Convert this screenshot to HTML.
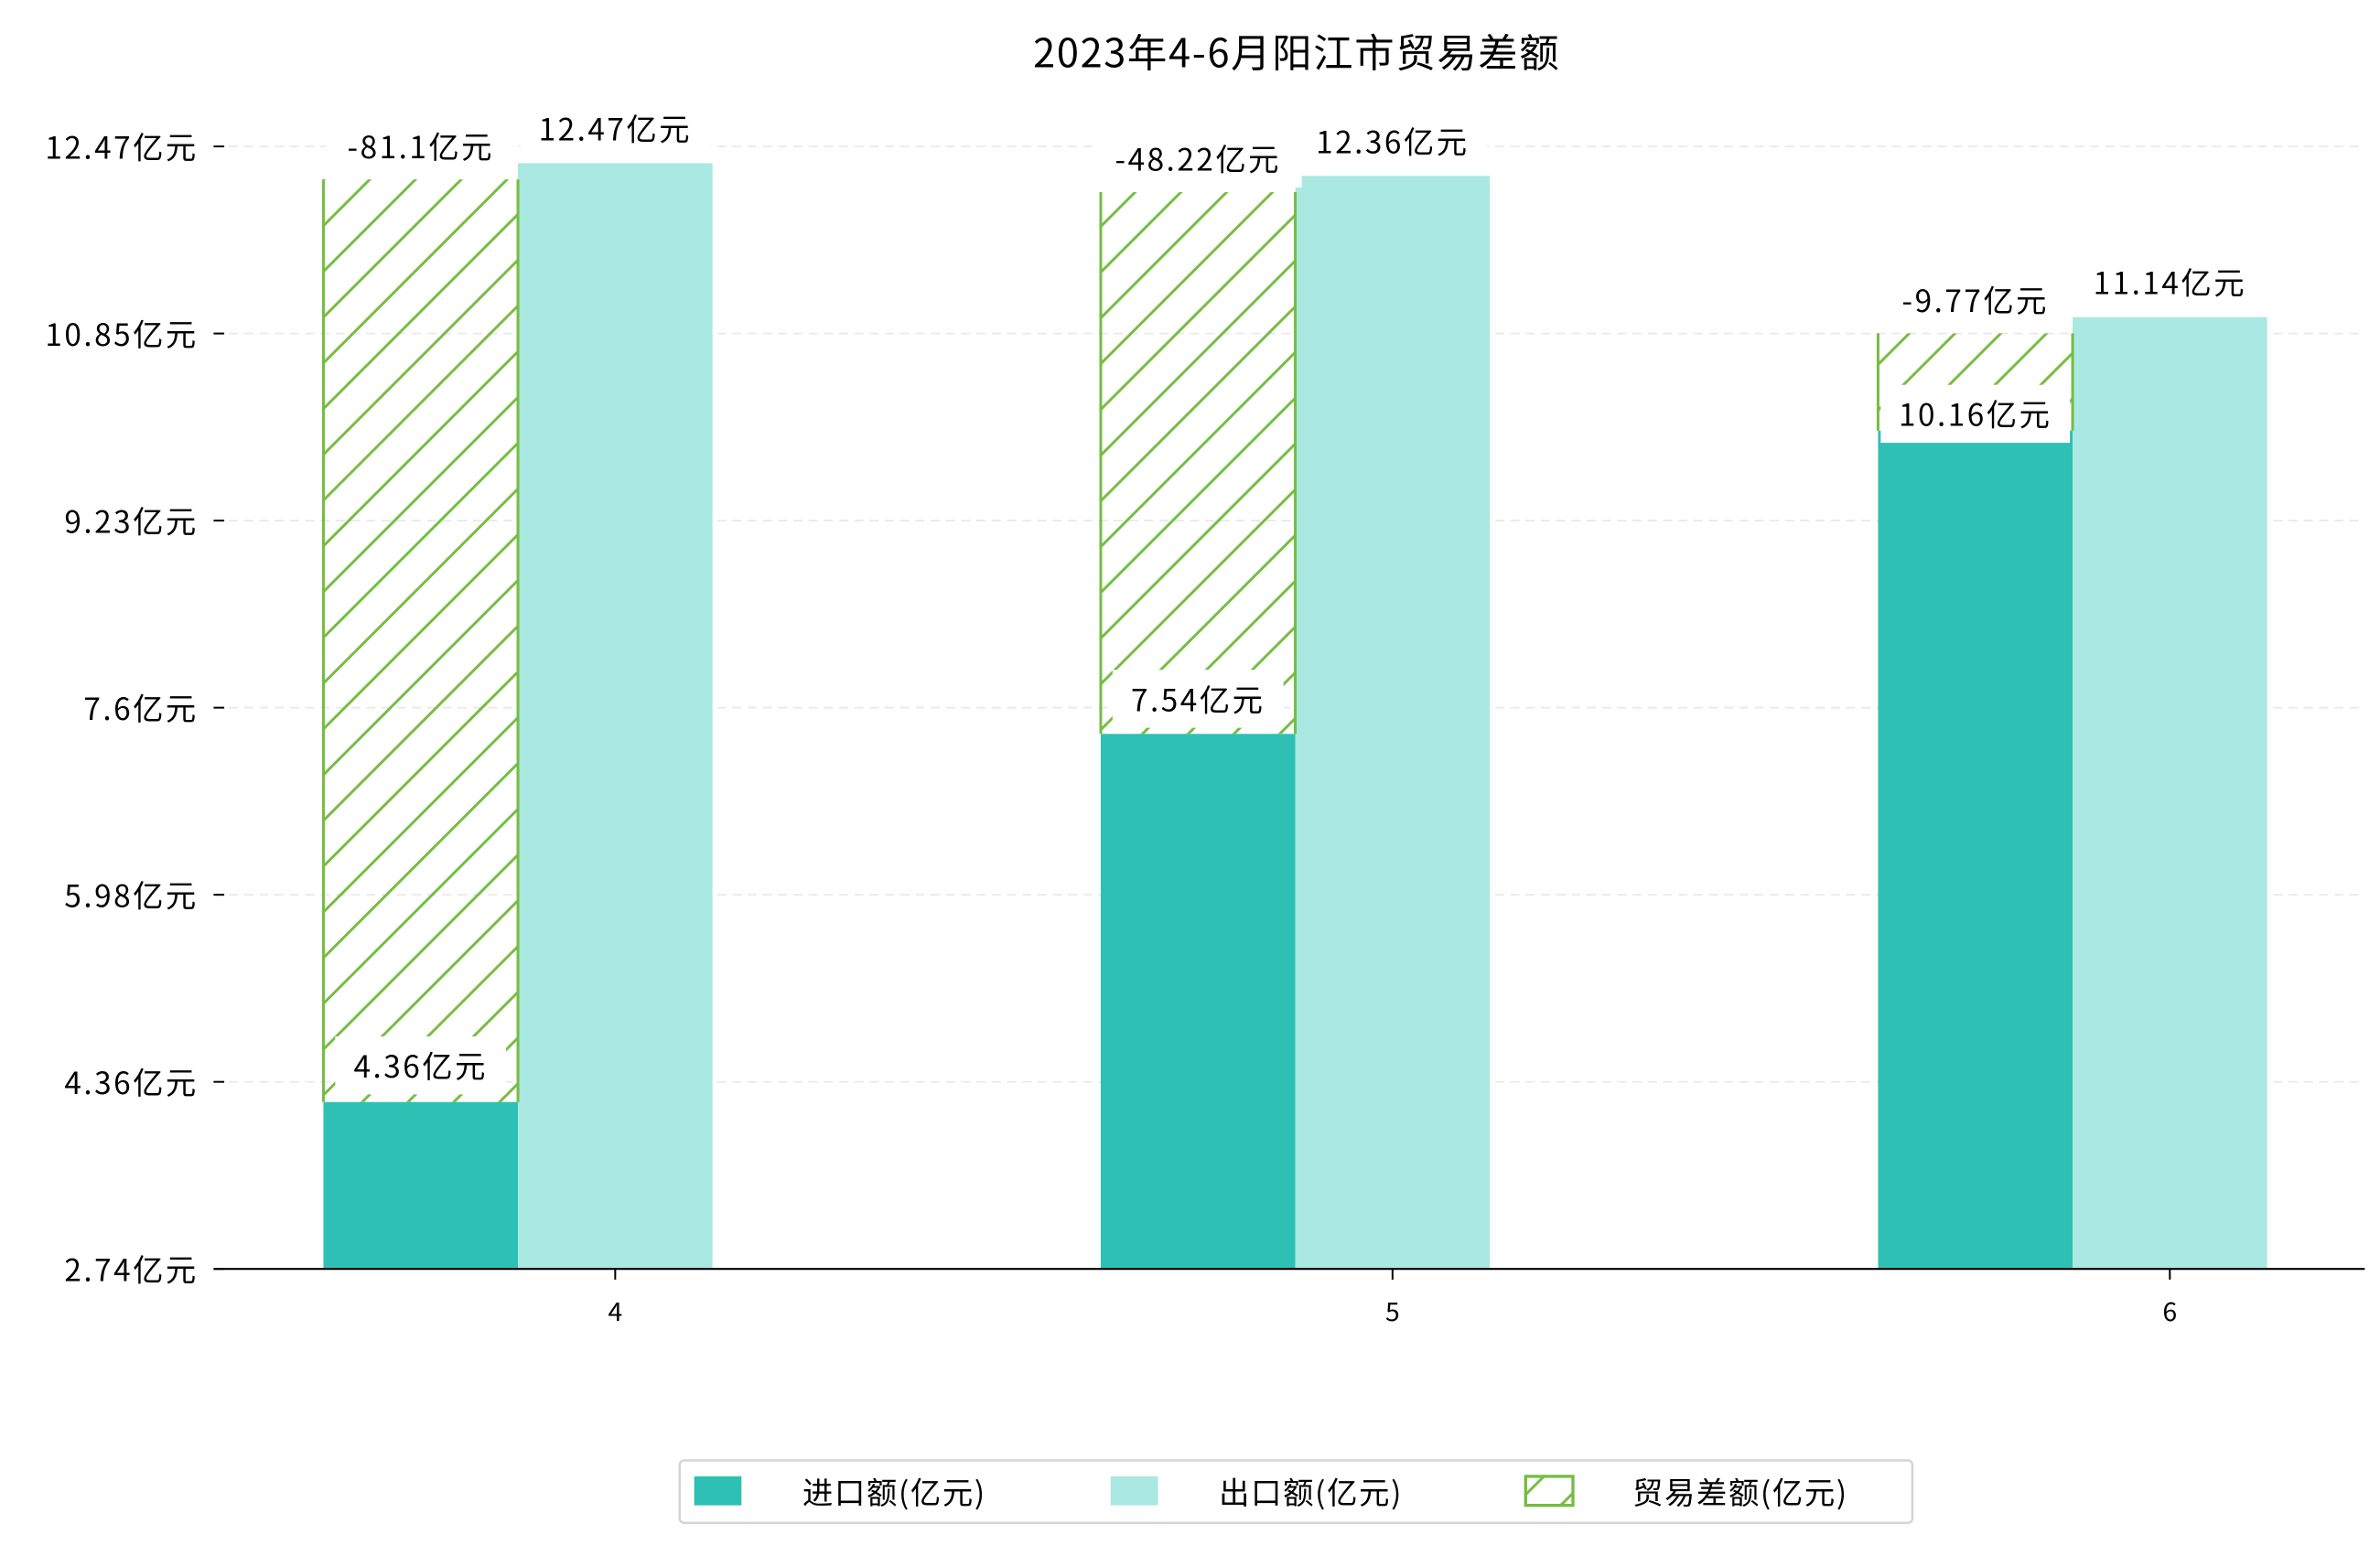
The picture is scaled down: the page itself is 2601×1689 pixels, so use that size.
<!DOCTYPE html>
<html><head><meta charset="utf-8"><style>
html,body{margin:0;padding:0;background:#fff}
svg{display:block;font-family:"WenQuanYi Zen Hei","Noto Sans CJK SC","Liberation Sans",sans-serif}
</style></head><body>
<svg id="chart" width="2601" height="1689" viewBox="0 0 1560 1013" xmlns="http://www.w3.org/2000/svg">
<defs>
<pattern id="hatch" patternUnits="userSpaceOnUse" width="30" height="30">
<path d="M-5,5 L5,-5 M0,30 L30,0 M25,35 L35,25" stroke="#76bc43" stroke-width="1.8"/>
</pattern>
<clipPath id="plotclip"><rect x="140" y="0" width="1420" height="832"/></clipPath>
</defs>
<rect x="0" y="0" width="1560" height="1013" fill="#fff"/>
<text x="850" y="44" font-size="26" text-anchor="middle" fill="#000" letter-spacing="1">2023年4-6月阳江市贸易差额</text>
<g id="grid"></g>
<g id="bars" clip-path="url(#plotclip)"></g>
<g id="labels"></g>
<line x1="140" y1="832" x2="1550" y2="832" stroke="#000" stroke-width="1.3"/>
<g id="ticks"></g>
<g>
<rect x="445.5" y="957.5" width="808" height="41" rx="3" fill="#fff" stroke="#d4d4d4" stroke-width="1.5"/>
<rect x="455" y="968" width="31" height="19" fill="#2ec0b4"/>
<text x="526" y="986" font-size="20" letter-spacing="1">进口额(亿元)</text>
<rect x="728" y="968" width="31" height="19" fill="#aae8e2"/>
<text x="799" y="986" font-size="20" letter-spacing="1">出口额(亿元)</text>
<rect x="1000" y="968" width="31" height="19" fill="url(#hatch)" stroke="#76bc43" stroke-width="2"/>
<text x="1070" y="986" font-size="20" letter-spacing="1">贸易差额(亿元)</text>
</g>
</svg>
<script>
const categories = ["4", "5", "6"];
const importValues = [4.36, 7.54, 10.16];
const exportValues = [12.47, 12.36, 11.14];
const balanceValues = [-81.1, -48.22, -9.77];
const tickLabels = ["2.74", "4.36", "5.98", "7.6", "9.23", "10.85", "12.47"];

const NS = "http://www.w3.org/2000/svg";
function yBar(v){ return 107 + (12.47 - v) * 75.9; }
function yTick(i){ return 832 - i * (736 / (tickLabels.length - 1)); }
function xGroup(i){ return 212 + i * 509.5; }
const BW = 127.5;
const importLabelOffset = [24, 23, 11];
function mk(tag, attrs, parent){ const e = document.createElementNS(NS, tag); for (const k in attrs) e.setAttribute(k, attrs[k]); parent.appendChild(e); return e; }

const grid = document.getElementById('grid');
const ticks = document.getElementById('ticks');
tickLabels.forEach((t, i) => {
  const y = yTick(i);
  if (i > 0) {
    const g = mk('line', {x1:140, x2:1550, y1:y, y2:y, stroke:'#e8e8e8', 'stroke-width':1, 'stroke-dasharray':'6,4'}, grid);
    
    
  }
  const tk = mk('line', {x1:140, x2:147, y1:y, y2:y, stroke:'#000', 'stroke-width':1.2}, ticks);
  
  
  const tx = mk('text', {x:130, y:y + 8, 'font-size':20, 'text-anchor':'end', 'letter-spacing':1.5}, ticks);
  tx.textContent = t + '亿元';
  
  
});

const bars = document.getElementById('bars');
const labels = document.getElementById('labels');
function label(x, y, text, name){
  const w = text.length * 12 + 40;
  const r = mk('rect', {x:x - w/2, y:y - 19, width:w, height:38, fill:'#fff'}, labels);
  
  
  const t = mk('text', {x:x, y:y + 8, 'font-size':20, 'text-anchor':'middle', 'letter-spacing':1.5}, labels);
  t.textContent = text;
  
  
}
categories.forEach((c, i) => {
  const x0 = xGroup(i);
  const yi = yBar(importValues[i]);
  const ye = yBar(exportValues[i]);
  const yd = yBar(exportValues[i] - 0.14);
  const b1 = mk('rect', {x:x0, y:yi, width:BW, height:Math.max(0, 832 - yi), fill:'#2ec0b4'}, bars);
  
  
  const b2 = mk('rect', {x:x0 + BW, y:ye, width:BW, height:Math.max(0, 832 - ye), fill:'#aae8e2'}, bars);
  
  
  const b3 = mk('rect', {x:x0, y:yd, width:BW, height:Math.max(0, yi - yd), fill:'url(#hatch)'}, bars);
  
  
  const l1 = mk('line', {x1:x0, x2:x0, y1:yd, y2:yi, stroke:'#76bc43', 'stroke-width':1.8}, bars);
  
  
  const l2 = mk('line', {x1:x0 + BW, x2:x0 + BW, y1:yd, y2:yi, stroke:'#76bc43', 'stroke-width':1.8}, bars);
  
  
  label(x0 + BW/2, yd - 22, balanceValues[i] + '亿元', 'balance-label-' + c);
  label(x0 + BW*1.5, ye - 23, exportValues[i] + '亿元', 'export-label-' + c);
  label(x0 + BW/2, yi - importLabelOffset[i], importValues[i] + '亿元', 'import-label-' + c);
  const xt = x0 + BW * 1.5;
  const tk = mk('line', {x1:xt, x2:xt, y1:832, y2:839, stroke:'#000', 'stroke-width':1.2}, ticks);
  
  
  const tl = mk('text', {x:xt, y:866, 'font-size':17, 'text-anchor':'middle'}, ticks);
  tl.textContent = c;
  
  
});
</script>
</body></html>
